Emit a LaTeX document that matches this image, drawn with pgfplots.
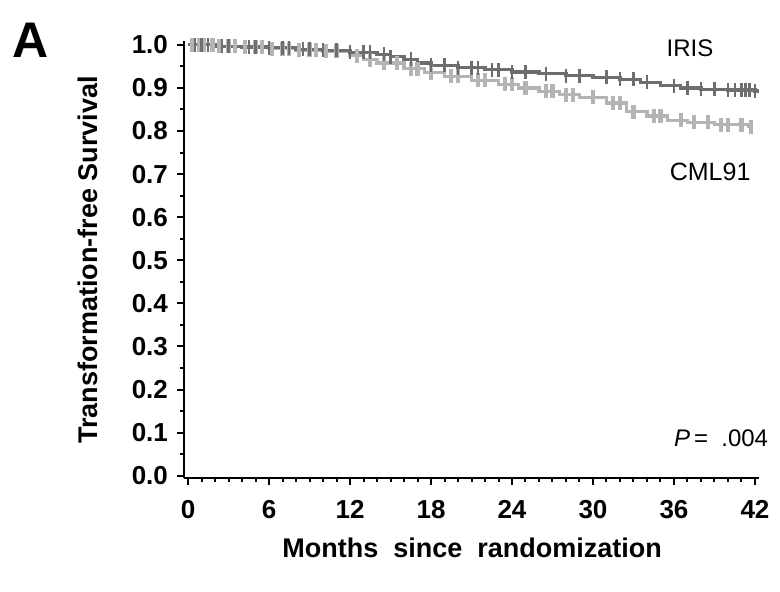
\documentclass[border=0pt]{standalone}
\usepackage{fontspec}
\setmainfont{Liberation Sans}
\usepackage{pgfplots}
\pgfplotsset{compat=1.18}

\definecolor{iris}{HTML}{6E6E6E}
\definecolor{cml}{HTML}{B4B4B4}

\begin{document}
\begin{tikzpicture}
\begin{axis}[
    scale only axis,
    width=287.5pt, height=218.7pt,
    xmin=-0.3, xmax=42.3,
    ymin=-0.005, ymax=1.01,
    axis x line*=bottom, axis y line*=left,
    axis line style={line width=1.2pt},
    xtick={0,6,...,42},
    ytick={0,0.1,...,1.0},
    minor x tick num=5,
    minor y tick num=1,
    tick align=outside,
    major tick length=3.5pt, minor tick length=2pt,
    every tick/.style={black, line width=1pt},
    /pgf/number format/assume math mode=true,
    /pgf/number format/.cd, fixed, fixed zerofill, precision=1, /pgfplots/.cd,
    xticklabel={\pgfmathprintnumber[precision=0,fixed zerofill=false]{\tick}},
    tick label style={font=\fontsize{13}{15}\selectfont\bfseries},
    xticklabel style={yshift=-4pt},
    yticklabel style={xshift=-1pt},
    xlabel={Months\ \ since\ \ randomization},
    ylabel={Transformation-free Survival},
    every axis x label/.style={at={(axis description cs:0.501,-0.16)}, anchor=center,
        font=\fontsize{13.5}{16}\selectfont\bfseries},
    every axis y label/.style={at={(axis description cs:-0.167,0.498)}, rotate=90, anchor=center,
        font=\fontsize{13.5}{16}\selectfont\bfseries},
    clip=false,
]
\coordinate (bl) at (rel axis cs:-0.32,-0.2606);
\coordinate (tr) at (rel axis cs:1.0365,1.0926);

% CML91 Kaplan-Meier curve
\addplot[const plot, cml, line width=1.6pt] coordinates {
(0,1.0) (2,0.997) (4,0.994) (6,0.991) (8,0.988) (10,0.985) (12,0.975) (13,0.965)
(14,0.958) (16,0.945) (17.5,0.935) (19,0.927) (21,0.918) (23,0.908) (24.5,0.9)
(26,0.892) (27.5,0.884) (29,0.878) (31,0.865) (32.5,0.845) (34,0.835) (35.5,0.825)
(37,0.82) (39,0.815) (41.5,0.81) (41.8,0.81)
};
% CML91 censoring marks
\addplot[only marks, mark=|, mark size=3.5pt, cml, mark options={line width=2.2pt}] coordinates {
(0.3,1) (0.8,1) (1.2,1) (1.8,1) (2.3,0.997) (3,0.997) (3.5,0.997) (4.2,0.994)
(5,0.994) (5.5,0.994) (6.2,0.991) (7,0.991) (7.5,0.991) (8.2,0.988) (9,0.988)
(9.5,0.988) (10.2,0.985) (11,0.985) (12.5,0.975) (13.5,0.965) (14.5,0.958)
(15.5,0.958) (16.5,0.945) (17,0.945) (18,0.935) (19.5,0.927) (20,0.927)
(21.5,0.918) (22,0.918) (23.5,0.908) (24,0.908) (25,0.9) (26.5,0.892) (27,0.892)
(28,0.884) (28.5,0.884) (30,0.878) (31.5,0.865) (32,0.865) (33,0.845) (34.5,0.835)
(35,0.835) (36.5,0.825) (37.5,0.82) (38.5,0.82) (39.5,0.815) (40,0.815) (41,0.815)
(41.7,0.81)
};

% IRIS Kaplan-Meier curve
\addplot[const plot, iris, line width=1.6pt] coordinates {
(0,1.0) (2,0.997) (4,0.995) (6,0.993) (8,0.99) (10,0.987) (12,0.983) (14,0.978)
(15,0.972) (16,0.966) (17,0.958) (18,0.952) (20,0.947) (22,0.942) (24,0.937)
(26,0.933) (28,0.928) (30,0.925) (32,0.92) (33.5,0.913) (35,0.905) (36.5,0.9)
(38,0.897) (40,0.895) (42,0.893) (42.3,0.893)
};
% IRIS censoring marks
\addplot[only marks, mark=|, mark size=3.5pt, iris, mark options={line width=1.2pt}] coordinates {
(0.5,1.0) (1,1.0) (1.5,1.0) (2.5,0.997) (3,0.997) (4.5,0.995) (5,0.995) (6,0.993)
(7,0.993) (7.5,0.993) (8.5,0.99) (9,0.99) (10,0.987) (11,0.987) (12,0.983)
(13,0.983) (13.5,0.983) (14.5,0.978) (15,0.972) (16.5,0.966) (18,0.952) (19,0.952)
(20,0.947) (21,0.947) (21.5,0.947) (22.5,0.942) (23,0.942) (24,0.937) (25,0.937)
(26.5,0.933) (28,0.928) (29,0.928) (31,0.925) (32,0.92) (33,0.92) (34,0.913)
(36,0.905) (37,0.9) (38,0.897) (39,0.897) (40,0.895) (40.5,0.895) (41,0.895)
(41.3,0.895) (41.6,0.895) (42,0.893)
};

\node[font=\fontsize{12}{14}\selectfont] at (rel axis cs:0.88,0.983) {IRIS};
\node[font=\fontsize{12.5}{14}\selectfont] at (rel axis cs:0.915,0.699) {CML91};
\node[font=\fontsize{12}{14}\selectfont] at (rel axis cs:0.934,0.091) {\textit{P}\,= \ .004};
\node[font=\fontsize{25}{28}\selectfont\bfseries] at (rel axis cs:-0.266,1.001) {A};
\end{axis}
\pgfresetboundingbox
\path[use as bounding box] (bl) rectangle (tr);
\end{tikzpicture}
\end{document}
